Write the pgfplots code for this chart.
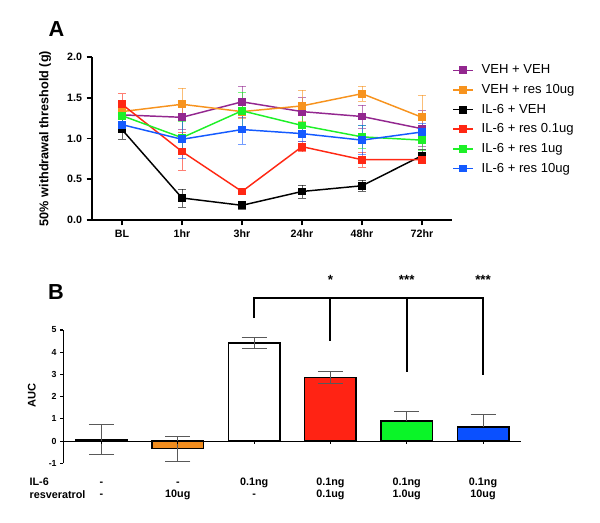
\documentclass[border=0pt]{standalone}
\usepackage{pgfplots}
\pgfplotsset{compat=1.18}
\usepackage{pgfplotstable}
\usepackage{fontspec}
\setmainfont{Liberation Sans}

\definecolor{cPurple}{RGB}{147,39,143}
\definecolor{cOrange}{RGB}{247,147,30}
\definecolor{cRed}{RGB}{255,40,20}
\definecolor{cGreen}{RGB}{30,240,40}
\definecolor{cBlue}{RGB}{20,90,255}
\definecolor{bOrange}{RGB}{240,140,30}
\definecolor{bRed}{RGB}{255,35,20}
\definecolor{bGreen}{RGB}{10,245,40}
\definecolor{bBlue}{RGB}{10,80,255}

\newcommand{\twol}[2]{\strut#1\\\strut#2}

% withdrawal threshold (g), mean and error
\pgfplotstableread{
t  veh  vehE  vres vresE il   ilE  r01  r01E r1   r1E  r10  r10E
0  1.29 0.15  1.33 0.12  1.11 0.12 1.42 0.13 1.28 0.10 1.17 0.08
1  1.26 0.15  1.42 0.20  0.27 0.11 0.84 0.23 1.01 0.20 0.99 0.23
2  1.45 0.19  1.33 0.08  0.18 0.05 0.35 0.04 1.34 0.23 1.11 0.18
3  1.33 0.17  1.40 0.19  0.35 0.08 0.90 0.06 1.16 0.12 1.06 0.10
4  1.27 0.14  1.55 0.09  0.42 0.07 0.74 0.09 1.02 0.14 0.98 0.18
5  1.12 0.22  1.26 0.27  0.79 0.08 0.74 0.05 0.98 0.12 1.08 0.10
}\timecourse

\pgfplotsset{
  errstyle/.style={error bars/y dir=both, error bars/y explicit,
    error bars/error bar style={line width=0.6pt, opacity=0.6},
    error bars/error mark options={rotate=90, mark size=3pt, line width=0.6pt, opacity=0.6}},
  barerr/.style={error bars/y explicit,
    error bars/error bar style={line width=0.8pt, draw=black!65},
    error bars/error mark options={rotate=90, mark size=9.4pt, line width=0.8pt, draw=black!65}}}

\begin{document}
\begin{tikzpicture}
\useasboundingbox (0,0) rectangle (450pt,391.5pt);

% ---------- panel A ----------
\begin{axis}[
  at={(69pt,226.5pt)}, anchor=south west,
  scale only axis, width=270pt, height=122.25pt,
  xmin=-0.5, xmax=5.5, ymin=0, ymax=2,
  axis lines*=left, axis line style={line width=1.6pt},
  tick align=outside, major tick length=4pt,
  tick style={line width=1.3pt, black},
  xtick={0,...,5}, xticklabels={BL,1hr,3hr,24hr,48hr,72hr},
  ytick={0,0.5,1,1.5,2},
  yticklabel style={/pgf/number format/.cd, fixed, fixed zerofill, precision=1},
  /pgf/number format/assume math mode=true,
  ticklabel style={font=\bfseries\fontsize{8}{9}\selectfont},
  ylabel={50\% withdrawal threshold (g)},
  ylabel style={font=\bfseries\fontsize{9.5}{11}\selectfont,
    at={(axis description cs:-0.13,0.5)}, anchor=center},
  legend style={at={(axis description cs:1.0,0.97)}, anchor=north west,
    draw=none, fill=none, inner sep=0pt,
    font=\fontsize{9.8}{12}\selectfont, row sep=2.4pt,
    /tikz/every odd column/.append style={column sep=4pt}},
  legend image code/.code={\draw[#1, mark repeat=2, mark phase=2]
    plot coordinates {(0pt,0pt) (7.5pt,0pt) (15pt,0pt)};},
  legend cell align=left,
  every axis plot/.append style={line width=1.1pt, mark=square*, mark size=2.4pt},
  clip=false,
]
\addplot[color=cPurple, errstyle] table[x=t, y=veh, y error=vehE]{\timecourse};
\addplot[color=cOrange, errstyle] table[x=t, y=vres, y error=vresE]{\timecourse};
\addplot[color=black, errstyle] table[x=t, y=il, y error=ilE]{\timecourse};
\addplot[color=cRed, errstyle] table[x=t, y=r01, y error=r01E]{\timecourse};
\addplot[color=cGreen, errstyle] table[x=t, y=r1, y error=r1E]{\timecourse};
\addplot[color=cBlue, errstyle] table[x=t, y=r10, y error=r10E]{\timecourse};
\legend{VEH + VEH, VEH + res 10ug, IL-6 + VEH, IL-6 + res 0.1ug, IL-6 + res 1ug, IL-6 + res 10ug}
\end{axis}

% ---------- panel B ----------
\begin{axis}[
  at={(47.5pt,44pt)}, anchor=south west,
  scale only axis, width=343.4pt, height=100pt,
  xmin=-0.5, xmax=5.5, ymin=-1, ymax=5,
  axis y line*=left, axis x line*=bottom,
  x axis line style={draw=none}, y axis line style={line width=0.9pt},
  tick align=outside, major tick length=2.5pt,
  ytick style={line width=0.9pt, black}, xtick style={draw=none},
  ytick={-1,0,1,2,3,4,5},
  xtick={0,...,5},
  xticklabels={\twol{-}{-},\twol{-}{10ug},\twol{0.1ng}{-},\twol{0.1ng}{0.1ug},\twol{0.1ng}{1.0ug},\twol{0.1ng}{10ug}},
  xticklabel style={align=center, anchor=north, yshift=-3.6pt,
    font=\bfseries\fontsize{8.1}{9.5}\selectfont},
  /pgf/number format/assume math mode=true,
  yticklabel style={font=\bfseries\fontsize{6.6}{8}\selectfont, xshift=1pt},
  ylabel={AUC},
  ylabel style={font=\bfseries\fontsize{8.3}{9}\selectfont,
    at={(axis description cs:-0.069,0.512)}, anchor=center},
  ybar, bar width=0.675, bar shift=0pt,
  every axis plot/.append style={draw=black, line width=1.1pt},
  clip=false,
]
\addplot[fill=black, barerr, error bars/y dir=both] coordinates {(0,0.07) +- (0,0.66)};
\addplot[fill=bOrange, barerr, error bars/y dir=both] coordinates {(1,-0.34) +- (0,0.56)};
\addplot[fill=white, barerr, error bars/y dir=both] coordinates {(2,4.42) +- (0,0.25)};
\addplot[fill=bRed, barerr, error bars/y dir=both] coordinates {(3,2.87) +- (0,0.28)};
\addplot[fill=bGreen, barerr, error bars/y dir=plus] coordinates {(4,0.90) +- (0,0.42)};
\addplot[fill=bBlue, barerr, error bars/y dir=plus] coordinates {(5,0.63) +- (0,0.56)};
% zero line and its ticks
\draw[line width=0.9pt] (axis cs:-0.5,0) -- (axis cs:5.5,0);
\pgfplotsinvokeforeach{0,...,5}{\draw[line width=0.8pt] (axis cs:#1,0) -- ([yshift=-2.5pt]axis cs:#1,0);}
% significance bracket
\draw[line width=1.4pt] (axis cs:2,5.53) -- (axis cs:2,6.46) -- (axis cs:5,6.46) -- (axis cs:5,2.96);
\draw[line width=1.4pt] (axis cs:3,6.46) -- (axis cs:3,4.5);
\draw[line width=1.4pt] (axis cs:4,6.46) -- (axis cs:4,3.13);
\node[anchor=base, font=\bfseries\fontsize{10}{10}\selectfont] at (axis cs:3,7.05) {*};
\node[anchor=base, font=\bfseries\fontsize{10}{10}\selectfont] at (axis cs:4,7.05) {***};
\node[anchor=base, font=\bfseries\fontsize{10}{10}\selectfont] at (axis cs:5,7.05) {***};
\end{axis}

% panel letters and row names
\node[font=\bfseries\fontsize{16.3}{17}\selectfont] at (42.4pt,369.4pt) {A};
\node[font=\bfseries\fontsize{16.3}{17}\selectfont] at (42pt,172.3pt) {B};
\node[anchor=west, inner sep=0pt, font=\bfseries\fontsize{8.1}{9}\selectfont] at (22pt,30.2pt) {IL-6};
\node[anchor=west, inner sep=0pt, font=\bfseries\fontsize{8.1}{9}\selectfont] at (22pt,20.8pt) {resveratrol};
\end{tikzpicture}
\end{document}
